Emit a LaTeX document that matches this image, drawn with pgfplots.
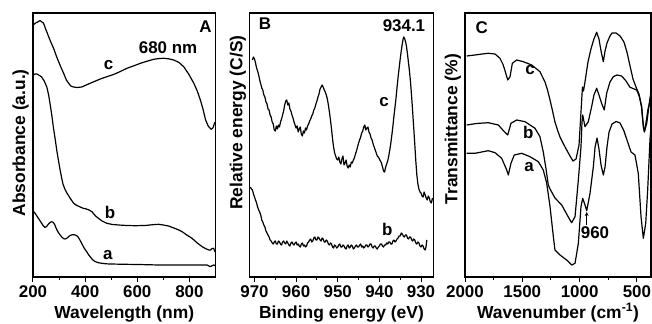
\documentclass[border=0pt]{standalone}
\usepackage{fontspec}
\setmainfont{Liberation Sans}
\usepackage{pgfplots}
\pgfplotsset{compat=1.18}
\usetikzlibrary{arrows.meta}
\newcommand\tf{\bfseries\fontsize{17}{18}\selectfont}
\pgfplotsset{
 panel/.style={
  scale only axis, height=264bp, ymin=0, ymax=264, ytick=\empty,
  axis line style={line width=1.2bp},
  tick align=outside, xtick pos=bottom,
  major tick length=5bp, minor tick length=3bp,
  every tick/.style={black, line width=1bp},
  tick label style={font=\bfseries\fontsize{17}{17}\selectfont},
  label style={font=\bfseries\fontsize{17.5}{18}\selectfont},
  xlabel style={at={(axis description cs:0.5,0)}, anchor=base, yshift=-41bp, inner sep=0pt},
  ylabel style={anchor=south, inner sep=0pt},
  cycle list={black},
  every axis plot post/.append style={black, line width=1.2bp, mark=none, line join=round},
  clip=true,
 }
}
\begin{document}
\begin{tikzpicture}
\useasboundingbox (0,0) rectangle (652bp,324bp);
% ---------------- Panel A ----------------
\begin{axis}[panel, at={(33bp,47bp)}, anchor=south west, width=182.5bp,
  xmin=200, xmax=900, xtick={200,400,600,800}, xticklabels={200,400,600,800},
  minor xtick={300,500,700},
  xlabel={Wavelength (nm)}, ylabel={Absorbance (a.u.)},
  ylabel style={at={(axis description cs:-0.022,0.508)}}]
\addplot coordinates {(201,252) (210,254) (218,255) (227,256.5) (234,255) (240,254) (250,247) (265,237) (280,228) (291,220) (305,211) (317,204) (328,197) (336,194) (345,191) (355,190) (370,189.5) (387,190) (400,191.5) (419,193.7) (440,196) (458,198) (480,200) (509,202.5) (535,205.5) (560,208.7) (590,211.5) (612,213.7) (640,216) (663,217.7) (685,218.5) (701,218.7) (720,218.2) (740,217) (760,214.5) (778,210.3) (797,203) (817,193.7) (830,186) (842,177) (852,168) (862,157) (872,151) (883,147.7) (890,149) (898,155)};
\addplot coordinates {(201,202) (208,203) (215,203) (225,201.5) (233,200) (243,196) (253,190) (260,182) (265,174) (272,162) (278,150) (285,138) (291,127) (298,116) (304,107) (310,99) (315,93) (322,88) (330,84) (342,79) (355,74) (365,72) (373,71) (385,69.5) (393,68.7) (405,68) (415,67) (426,65.3) (440,61) (451,58.7) (465,56) (483,53.7) (505,52.5) (528,52) (560,51.5) (592,51.3) (630,51.5) (660,52.3) (682,52.7) (700,52) (720,51) (740,49) (755,47.5) (772,45.3) (790,42) (810,38.7) (830,34) (849,30.3) (865,28) (875,27) (881,27) (887,28.5) (893,28.7) (898,25)};
\addplot coordinates {(201,66) (210,63) (220,59) (230,55) (240,51) (246,49.5) (252,50.5) (258,52.5) (265,54.5) (272,55.3) (278,54.5) (284,52) (290,48) (296,45) (304,42) (312,39.5) (318,38.3) (323,38) (329,38.6) (335,40) (342,41.5) (350,42.2) (356,42.3) (362,42) (368,41.2) (373,40) (380,37) (388,33) (396,29) (406,25.3) (414,22) (423,19) (430,17) (438,15.5) (450,14.3) (464,13.7) (480,13.2) (496,13) (554,12.7) (620,12.4) (682,12) (750,12.1) (810,12) (850,12) (868,12) (875,11) (881,10.3) (887,11.3) (893,12) (898,11.5)};
\node[font=\tf] at (axis cs:862,250) {A};
\node[font=\tf] at (axis cs:718,229) {680 nm};
\node[font=\tf] at (axis cs:490,212) {c};
\node[font=\tf] at (axis cs:496,65) {b};
\node[font=\tf] at (axis cs:487,22) {a};
\end{axis}
% ---------------- Panel B ----------------
\begin{axis}[panel, at={(249.5bp,47bp)}, anchor=south west, width=184bp,
  x dir=reverse, xmin=927, xmax=971.2, xtick={970,960,950,940,930}, xticklabels={970,960,950,940,930},
  minor xtick={965,955,945,935},
  xlabel={Binding energy (eV)}, ylabel={Relative energy (C/S)},
  ylabel style={at={(axis description cs:-0.018,0.585)}}]
\addplot coordinates {(970.5,217) (970.25,220) (970.0,218) (969.75,214) (969.5,209) (969.25,206) (969.0,202) (968.75,197) (968.5,193) (968.25,189) (968.0,187) (967.75,182) (967.5,180) (967.25,175) (967.0,173) (966.75,168) (966.5,167) (966.25,162) (966.0,160) (965.75,155) (965.5,153) (965.25,147) (965.0,146) (964.75,151) (964.5,148) (964.25,152) (964.0,150) (963.75,155) (963.5,158) (963.25,162) (963.0,166) (962.75,172) (962.5,176) (962.25,177) (962.0,172) (961.75,174) (961.5,168) (961.25,166) (961.0,162) (960.75,159) (960.5,155) (960.25,152) (960.0,149) (959.75,151) (959.5,145) (959.25,148) (959.0,150) (958.75,143) (958.5,141) (958.25,146) (958.0,144) (957.75,149) (957.5,147) (957.25,151) (957.0,153) (956.75,156) (956.5,158) (956.25,161) (956.0,163) (955.75,167) (955.5,169) (955.25,173) (955.0,176) (954.75,180) (954.5,183) (954.25,188) (954.0,190) (953.75,192) (953.5,190) (953.25,187) (953.0,185) (952.75,182) (952.5,178) (952.25,172) (952.0,165) (951.75,157) (951.5,148) (951.25,138) (951.0,130) (950.75,124) (950.5,121) (950.25,118) (950.0,117) (949.75,120) (949.5,115) (949.25,113) (949.0,118) (948.75,121) (948.5,112) (948.25,114) (948.0,117) (947.75,111) (947.5,109) (947.25,112) (947.0,110) (946.75,115) (946.5,114) (946.25,117) (946.0,119) (945.75,123) (945.5,126) (945.25,130) (945.0,134) (944.75,137) (944.5,140) (944.25,144) (944.0,146) (943.75,150) (943.5,152) (943.25,147) (943.0,149) (942.75,150) (942.5,145) (942.25,143) (942.0,139) (941.75,137) (941.5,133) (941.25,130) (941.0,127) (940.75,124) (940.5,121) (940.25,120) (940.0,118) (939.75,116) (939.5,114) (939.25,110) (939.0,106) (938.75,105) (938.5,110) (938.25,113) (938.0,116) (937.75,121) (937.5,127) (937.25,134) (937.0,142) (936.75,151) (936.5,161) (936.25,170) (936.0,179) (935.75,190) (935.5,200) (935.25,209) (935.0,218) (934.75,226) (934.5,233) (934.3,238) (934.15,240) (933.9,238) (933.7,235) (933.5,231) (933.25,223) (933.0,214) (932.75,205) (932.5,194) (932.25,180) (932.0,165) (931.75,149) (931.5,133) (931.25,116) (931.0,102) (930.75,93) (930.5,88) (930.25,85) (930.0,84) (929.75,81) (929.5,80) (929.25,85) (929.0,82) (928.75,79) (928.5,77) (928.25,81) (928.0,79) (927.75,75) (927.5,74) (927.25,79)};
\addplot coordinates {(971.0,90) (970.75,88) (970.5,87) (970.25,83) (970.0,80) (969.75,77) (969.5,74) (969.25,70) (969.0,67) (968.75,65) (968.5,62) (968.25,57) (968.0,55) (967.75,52) (967.5,50) (967.25,46) (967.0,44) (966.75,42) (966.5,40) (966.25,37) (966.0,36) (965.75,34) (965.5,33) (965.25,35) (965.0,36) (964.75,33) (964.5,33) (964.25,36) (964.0,35) (963.75,33) (963.5,32) (963.25,35) (963.0,36) (962.75,34) (962.5,33) (962.25,36) (962.0,34) (961.75,32) (961.5,31) (961.25,34) (961.0,35) (960.75,33) (960.5,32) (960.25,34) (960.0,35) (959.75,32) (959.5,33) (959.25,31) (959.0,30) (958.75,33) (958.5,34) (958.25,31) (958.0,32) (957.75,30) (957.5,31) (957.25,34) (957.0,35) (956.75,37) (956.5,38) (956.25,35) (956.0,36) (955.75,39) (955.5,40) (955.25,37) (955.0,37) (954.75,40) (954.5,39) (954.25,37) (954.0,36) (953.75,39) (953.5,38) (953.25,35) (953.0,35) (952.75,37) (952.5,36) (952.25,33) (952.0,32) (951.75,34) (951.5,33) (951.25,30) (951.0,29) (950.75,32) (950.5,31) (950.25,29) (950.0,30) (949.75,32) (949.5,33) (949.25,30) (949.0,30) (948.75,32) (948.5,31) (948.25,29) (948.0,28) (947.75,31) (947.5,32) (947.25,29) (947.0,30) (946.75,32) (946.5,31) (946.25,28) (946.0,29) (945.75,31) (945.5,32) (945.25,30) (945.0,30) (944.75,32) (944.5,33) (944.25,30) (944.0,31) (943.75,29) (943.5,30) (943.25,32) (943.0,32) (942.75,30) (942.5,31) (942.25,33) (942.0,33) (941.75,30) (941.5,29) (941.25,31) (941.0,31) (940.75,29) (940.5,28) (940.25,30) (940.0,31) (939.75,33) (939.5,33) (939.25,31) (939.0,30) (938.75,32) (938.5,32) (938.25,34) (938.0,33) (937.75,35) (937.5,35) (937.25,33) (937.0,33) (936.75,36) (936.5,37) (936.25,35) (936.0,36) (935.75,38) (935.5,39) (935.25,41) (935.0,41) (934.75,44) (934.5,43) (934.25,41) (934.0,40) (933.75,42) (933.5,42) (933.25,39) (933.0,38) (932.75,40) (932.5,40) (932.25,37) (932.0,36) (931.75,38) (931.5,37) (931.25,34) (931.0,33) (930.75,35) (930.5,34) (930.25,31) (930.0,30) (929.75,32) (929.5,31) (929.25,28) (929.0,27) (928.8,30) (928.6,37)};
\node[font=\tf] at (axis cs:967.5,253) {B};
\node[font=\tf] at (axis cs:934.1,251) {934.1};
\node[font=\tf] at (axis cs:938.9,175) {c};
\node[font=\tf] at (axis cs:938.1,48) {b};
\end{axis}
% ---------------- Panel C ----------------
\begin{axis}[panel, at={(465bp,47bp)}, anchor=south west, width=186bp,
  x dir=reverse, xmin=377, xmax=2000, xtick={2000,1500,1000,500}, xticklabels={2000,1500,1000,500},
  minor xtick={1750,1250,750},
  xlabel={Wavenumber (cm\textsuperscript{-1})}, ylabel={Transmittance (\%)},
  ylabel style={at={(axis description cs:-0.02,0.56)}}]
\addplot coordinates {(1985,221) (1913,222) (1850,223) (1797,223.7) (1738,223) (1695,218.7) (1670,213) (1657,208.7) (1640,202) (1627,197) (1607,200.3) (1587,213.7) (1549,217) (1491,215.3) (1418,212) (1346,205.3) (1302,195) (1280,187) (1258,177) (1236,166) (1215,155) (1190,146) (1171,140) (1127,130) (1084,121) (1058,116) (1031,118) (1005,132) (988,165) (975,190) (966,186) (953,195) (927,215) (901,228) (875,238) (851,244.7) (831,238) (813,226) (793,215.3) (778,226) (761,234) (735,241) (717,244) (682,244) (647,241) (613,235) (587,225) (560,211) (534,198) (508,190) (482,183) (460,170) (444,150) (434,145) (416,158) (403,168) (377,180)};
\addplot coordinates {(1985,152) (1900,153.5) (1797,154.3) (1709,152) (1657,145.3) (1627,142) (1599,153.7) (1549,157) (1476,155.3) (1389,148.7) (1346,140.3) (1317,125) (1293,108) (1273,92) (1258,88) (1215,79) (1156,72) (1118,64) (1084,57) (1069,54.3) (1040,60.3) (1011,97) (988,130) (979,155) (973,162) (953,150.3) (924,155.3) (895,170.3) (875,182) (851,188.7) (831,182) (808,173.7) (785,167) (764,183.7) (735,195) (706,200.3) (674,202) (633,201) (595,196) (560,189.7) (502,187) (477,180) (458,170.3) (447,155) (435,145.3) (414,153.7) (386,178.7) (377,185)};
\addplot coordinates {(1985,123.7) (1913,123.7) (1797,126.3) (1738,124.3) (1680,118.7) (1636,107) (1622,102) (1599,113.7) (1570,122) (1505,123.7) (1433,120.3) (1360,115.3) (1317,107) (1287,93.7) (1258,70.3) (1229,40.3) (1215,27) (1171,22) (1113,17) (1069,12) (1040,13.7) (1011,33.7) (988,70.3) (973,78.7) (953,72) (938,66.3) (909,83.7) (880,110.3) (865,130) (848,139) (831,128) (813,112) (793,102) (778,110) (761,130) (743,145) (717,153) (682,155.5) (647,154) (613,146) (578,134) (551,125) (517,122) (488,103.7) (464,60.3) (444,38.7) (423,53.7) (406,87) (386,137) (377,150)};
\node[font=\tf] at (axis cs:1854,249) {C};
\node[font=\tf] at (axis cs:1433,207) {c};
\node[font=\tf] at (axis cs:1448,145) {b};
\node[font=\tf] at (axis cs:1441,110) {a};
\node[font=\tf] at (axis cs:866,44) {960};
\draw[-{Stealth[length=4bp,width=4bp]}, line width=0.9bp] (axis cs:938,52) -- (axis cs:938,65);
\end{axis}
\end{tikzpicture}
\end{document}
